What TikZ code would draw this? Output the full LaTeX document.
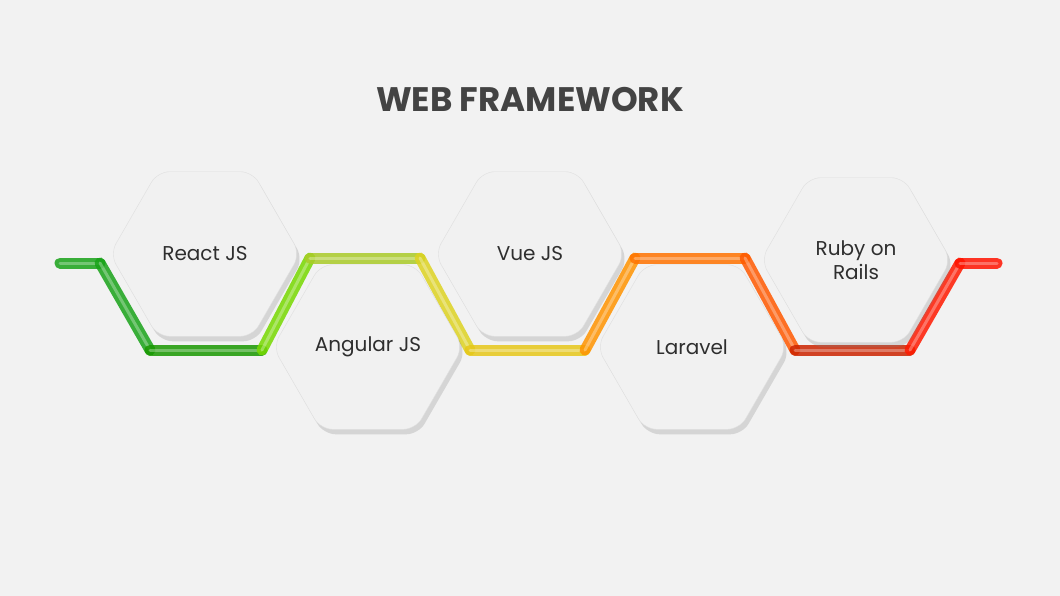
\documentclass[tikz,border=0pt]{standalone}
\usepackage{fontspec}
\setmainfont{Poppins}
\usetikzlibrary{shapes.geometric,shadows}

\definecolor{bgray}{HTML}{F2F2F2}
\definecolor{hexfill}{HTML}{F1F1F1}
\definecolor{txtgray}{HTML}{2E2E2E}

\tikzset{
  hexbox/.style={draw=gray!25, fill=hexfill, regular polygon, regular polygon sides=6,
    shape border rotate=0, minimum size=190pt, inner sep=0pt, rounded corners=12pt,
    drop shadow={shadow xshift=3pt, shadow yshift=-5pt, opacity=0.25, fill=gray},
    align=center, font=\fontsize{20}{24}\selectfont, text=txtgray},
  track/.style={line width=11pt, line cap=round, line join=round, draw opacity=0.85}
}

\begin{document}
\begin{tikzpicture}[x=1pt, y=-1pt]
\fill[bgray] (0,0) rectangle (1060,596);
\useasboundingbox (0,0) rectangle (1060,596);

\node[text=txtgray!90, font=\fontsize{34}{40}\selectfont\bfseries] (title) at (530,100) {WEB FRAMEWORK};

% coloured track behind the hexagons
\foreach \a/\b/\c/\d/\col in {60/263/100/263/green!60!black!90,
  100/263/150/350/green!60!black!90, 150/350/262/350/green!55!black!90!yellow,
  262/350/310/258/green!45!yellow!85!black, 310/258/420/258/yellow!70!green!90!black,
  420/258/470/350/yellow!85!black, 470/350/585/350/yellow!75!orange!90!black,
  585/350/635/258/orange!85!yellow, 635/258/745/258/orange!90!red,
  745/258/795/350/orange!70!red, 795/350/910/350/red!65!orange!80!black,
  910/350/960/263/red!80!orange, 960/263/997/263/red!85!orange}
{
  \coordinate (p) at (\a,\b);
  \coordinate (q) at (\c,\d);
  \draw[track, \col] (p) -- (q);
  \draw[line width=3pt, line cap=round, white, opacity=0.3] (p) -- (q);
}

\node[hexbox] (react) at (205,254) {React JS};
\node[hexbox] (angular) at (368,347) {Angular JS};
\node[hexbox] (vue) at (530,254) {Vue JS};
\node[hexbox] (laravel) at (692,347) {Laravel};
\node[hexbox] (ruby) at (856,260) {Ruby on\\Rails};
\end{tikzpicture}
\end{document}
